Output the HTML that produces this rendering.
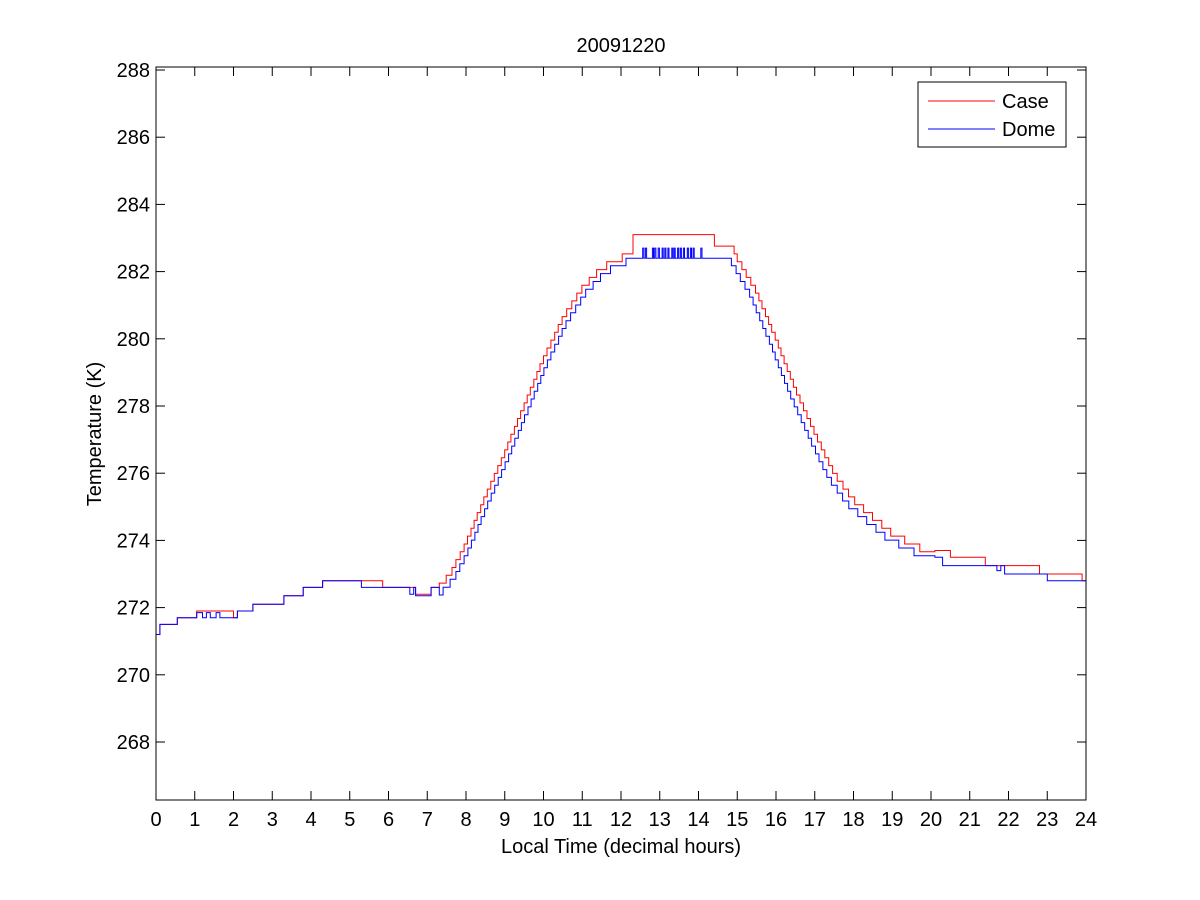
<!DOCTYPE html>
<html><head><meta charset="utf-8"><style>
body{margin:0;background:#fff;}
svg{display:block;font-family:"Liberation Sans",Arial,sans-serif;}
</style></head><body>
<svg id="s" width="1200" height="900" viewBox="0 0 1200 900">
<rect width="1200" height="900" fill="#fff"/>
<g id="plot"></g>
<rect x="156" y="67" width="930" height="733" fill="none" stroke="#000" stroke-width="1"/>
<g id="ticks" stroke="#000" stroke-width="1"></g>
<g id="labels" font-size="20" fill="#000"></g>
<text x="621" y="52" font-size="20" text-anchor="middle">20091220</text>
<text x="621" y="853" font-size="20" text-anchor="middle">Local Time (decimal hours)</text>
<text transform="translate(101,434) rotate(-90)" font-size="20" text-anchor="middle">Temperature (K)</text>
<rect x="918" y="82" width="148" height="65" fill="#fff" stroke="#000"/>
<line x1="928" y1="101" x2="995" y2="101" stroke="#ff0000"/>
<line x1="928" y1="129" x2="995" y2="129" stroke="#0000ff"/>
<text x="1002" y="108" font-size="20">Case</text>
<text x="1002" y="136" font-size="20">Dome</text>
</svg>
<script>
var X=function(h){return 156+h*38.75;},Y=function(t){return 742-(t-268)*33.6;};
var ns="http://www.w3.org/2000/svg";
var tk=document.getElementById('ticks'),lb=document.getElementById('labels');
function el(p,n,a,t){var e=document.createElementNS(ns,n);for(var k in a)e.setAttribute(k,a[k]);if(t!==undefined)e.textContent=t;p.appendChild(e);return e;}
for(var h=0;h<=24;h++){var x=X(h);el(tk,'line',{x1:x,y1:800,x2:x,y2:791});el(tk,'line',{x1:x,y1:67,x2:x,y2:76});el(lb,'text',{x:x,y:826,'text-anchor':'middle'},h);}
for(var t=268;t<=288;t+=2){var y=Y(t);el(tk,'line',{x1:156,y1:y,x2:165,y2:y});el(tk,'line',{x1:1086,y1:y,x2:1077,y2:y});el(lb,'text',{x:150,y:y+7,'text-anchor':'end'},t);}
function interp(k,h){if(h<=k[0][0])return k[0][1];for(var i=0;i<k.length-1;i++){if(h>=k[i][0]&&h<=k[i+1][0]){var f=(h-k[i][0])/(k[i+1][0]-k[i][0]);return k[i][1]+f*(k[i+1][1]-k[i][1]);}}return k[k.length-1][1];}
function q(v){var s=0.2333;return Math.round(v/s)*s;}
var spikes=[12.55,12.62,12.8,12.86,12.95,13.05,13.12,13.2,13.3,13.36,13.45,13.52,13.6,13.7,13.78,13.85,14.05];
function build(steps,rise,fall,shiftR,shiftF,off,plateau,blue){
 var pts=[],dt=0.01;
 for(var h=0;h<=24.001;h+=dt){
  var v;
  if(h<7.3){v=interp(steps,h);}
  else if(h<12.3+shiftR){v=Math.min(q(interp(rise,h-shiftR))+off,plateau);}
  else if(h<14.4+shiftF){v=plateau;
    if(blue){for(var i=0;i<spikes.length;i++){if(h>=spikes[i]&&h<spikes[i]+0.03)v=282.7;}}
    if(!blue&&h>14.4)v=282.75;}
  else if(h<20.1){v=Math.min(q(interp(fall,h-shiftF))+off,blue?plateau:283.1);}
  else v=interp(steps,h);
  pts.push([X(h),Y(v)]);
 }
 var d='M'+pts[0][0].toFixed(1)+' '+pts[0][1].toFixed(1);
 for(var i=1;i<pts.length;i++){d+='H'+pts[i][0].toFixed(1)+'V'+pts[i][1].toFixed(1);}
 return d;
}
function stepfn(arr){var k=[];for(var i=0;i<arr.length;i++){k.push([arr[i][0],arr[i][1]]);var nx=i+1<arr.length?arr[i+1][0]-0.0001:24.1;k.push([nx,arr[i][1]]);}return k;}
var redSteps=stepfn([[0,271.2],[0.1,271.5],[0.55,271.7],[1.05,271.9],[2.0,271.7],[2.1,271.9],[2.5,272.1],[3.3,272.35],[3.8,272.6],[4.3,272.8],[5.85,272.6],[6.7,272.4],[7.1,272.6],[20,273.7],[20.5,273.5],[21.4,273.25],[22.8,273.0],[23.9,272.8]]);
var blueSteps=stepfn([[0,271.2],[0.1,271.5],[0.55,271.7],[1.05,271.85],[1.2,271.7],[1.3,271.85],[1.4,271.7],[1.55,271.85],[1.65,271.7],[2.1,271.9],[2.5,272.1],[3.3,272.35],[3.8,272.6],[4.3,272.8],[5.3,272.6],[6.55,272.4],[6.65,272.6],[6.7,272.35],[7.1,272.6],[20,273.5],[20.3,273.25],[21.7,273.1],[21.8,273.25],[21.9,273.0],[23.0,272.8]]);
var rise=[[7.3,272.6],[7.6,273.0],[8,273.9],[8.5,275.3],[9,276.6],[9.5,278],[10,279.4],[10.5,280.6],[11,281.5],[11.5,282.1],[12,282.4],[12.3,282.5]];
var fall=[[14.4,282.75],[14.9,282.7],[15,282.4],[15.5,281.4],[16,280],[16.5,278.5],[17,277.2],[17.5,276],[18,275.2],[18.5,274.7],[19,274.2],[19.5,273.9],[20,273.6],[20.2,273.6]];
var p=document.getElementById('plot');
el(p,'path',{d:build(redSteps,rise,fall,0,0,0,283.1,false),fill:'none',stroke:'#ff0000','stroke-width':1});
el(p,'path',{d:build(blueSteps,rise,fall,0.1,-0.15,-0.12,282.4,true),fill:'none',stroke:'#0000ff','stroke-width':1});
</script>
</body></html>
